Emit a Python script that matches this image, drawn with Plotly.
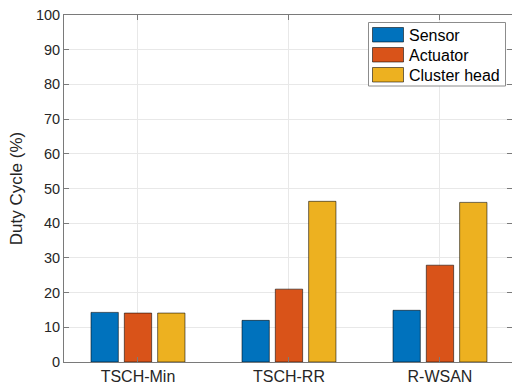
import plotly.graph_objects as go

categories = ["TSCH-Min", "TSCH-RR", "R-WSAN"]
series_names = ["Sensor", "Actuator", "Cluster head"]
sensor = [14.3, 12.0, 14.9]
actuator = [14.1, 21.0, 27.9]
cluster_head = [14.1, 46.3, 46.0]
colors = ["#0072BD", "#D95319", "#EDB120"]
y_ticks = [0, 10, 20, 30, 40, 50, 60, 70, 80, 90, 100]

W, H = 512, 387
ML, MT, MB, MR = 64, 15, 25, 0
PW, PH = W - ML - MR, H - MT - MB

def px(x):
    return (x - ML) / PW

def py(y):
    return (H - MB - y) / PH

font_family = "Liberation Sans, Arial, Helvetica, sans-serif"
text_color = "#262626"
edge = "rgba(0,0,0,0.55)"

fig = go.Figure()
for name, vals, col in zip(series_names, [sensor, actuator, cluster_head], colors):
    fig.add_trace(go.Bar(x=categories, y=vals, name=name,
                         marker=dict(color=col, line=dict(color=edge, width=1)),
                         showlegend=False))

# custom MATLAB-style legend
shapes = [dict(type="rect", xref="paper", yref="paper",
               x0=px(368.5), x1=px(505.5), y0=py(86), y1=py(22.5),
               line=dict(color="#8c8c8c", width=1), fillcolor="white", layer="above")]
annotations = []
for i, (name, col) in enumerate(zip(series_names, colors)):
    top = 27.5 + 20 * i
    shapes.append(dict(type="rect", xref="paper", yref="paper",
                       x0=px(372.5), x1=px(403.5), y0=py(top + 14.5), y1=py(top),
                       line=dict(color=edge, width=1), fillcolor=col, layer="above"))
    annotations.append(dict(xref="paper", yref="paper", x=px(406.5), y=py(top + 7.5),
                            text=name, showarrow=False, xanchor="left", yanchor="middle",
                            font=dict(family=font_family, size=16, color="#000000")))

axis_common = dict(showline=True, linecolor="#7a7a7a", linewidth=1, mirror="ticks",
                   ticks="inside", ticklen=5, tickcolor="#7a7a7a", tickwidth=1,
                   showgrid=True, gridcolor="#e8e8e8", gridwidth=1, zeroline=False)

fig.update_layout(
    width=W, height=H,
    margin=dict(l=ML, r=MR, t=MT, b=MB, pad=0),
    paper_bgcolor="white", plot_bgcolor="white",
    barmode="group", bargap=0.338, bargroupgap=0.18,
    xaxis=dict(type="category", range=[-0.49, 2.477],
               tickfont=dict(family=font_family, size=16, color=text_color),
               **axis_common),
    yaxis=dict(range=[0, 100], tickvals=y_ticks,
               tickfont=dict(family=font_family, size=14.5, color=text_color),
               title=dict(text="Duty Cycle (%)", standoff=8,
                          font=dict(family=font_family, size=17, color=text_color)),
               **axis_common),
    shapes=shapes, annotations=annotations,
)

fig.write_html("out.html")
